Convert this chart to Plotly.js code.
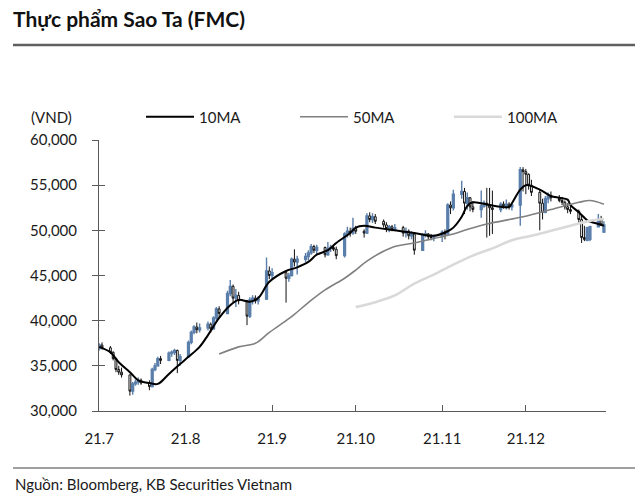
<!DOCTYPE html>
<html>
<head>
<meta charset="utf-8">
<script src="https://cdn.plot.ly/plotly-3.0.1.min.js"></script>
<style>
  html, body { margin: 0; padding: 0; background: #ffffff; }
  #chart { width: 640px; height: 501px; }
</style>
</head>
<body>
<div id="chart"></div>
<script>
// ---- Data ----
const dates = [
  '2021-07-01','2021-07-02','2021-07-05','2021-07-06','2021-07-07','2021-07-08','2021-07-09',
  '2021-07-12','2021-07-13','2021-07-14','2021-07-15','2021-07-16','2021-07-19','2021-07-20',
  '2021-07-21','2021-07-22','2021-07-23','2021-07-26','2021-07-27','2021-07-28','2021-07-29','2021-07-30',
  '2021-08-02','2021-08-03','2021-08-04','2021-08-05','2021-08-06','2021-08-09','2021-08-10',
  '2021-08-11','2021-08-12','2021-08-13','2021-08-16','2021-08-17','2021-08-18','2021-08-19',
  '2021-08-20','2021-08-23','2021-08-24','2021-08-25','2021-08-26','2021-08-27','2021-08-30','2021-08-31',
  '2021-09-01','2021-09-06','2021-09-07','2021-09-08','2021-09-09','2021-09-10','2021-09-13',
  '2021-09-14','2021-09-15','2021-09-16','2021-09-17','2021-09-20','2021-09-21','2021-09-22',
  '2021-09-23','2021-09-24','2021-09-27','2021-09-28','2021-09-29','2021-09-30',
  '2021-10-01','2021-10-04','2021-10-05','2021-10-06','2021-10-07','2021-10-08','2021-10-11',
  '2021-10-12','2021-10-13','2021-10-14','2021-10-15','2021-10-18','2021-10-19','2021-10-20',
  '2021-10-21','2021-10-22','2021-10-25','2021-10-26','2021-10-27','2021-10-28','2021-10-29',
  '2021-11-01','2021-11-02','2021-11-03','2021-11-04','2021-11-05','2021-11-08','2021-11-09',
  '2021-11-10','2021-11-11','2021-11-12','2021-11-15','2021-11-16','2021-11-17','2021-11-18',
  '2021-11-19','2021-11-22','2021-11-23','2021-11-24','2021-11-25','2021-11-26','2021-11-29','2021-11-30',
  '2021-12-01','2021-12-02','2021-12-03','2021-12-06','2021-12-07','2021-12-08','2021-12-09',
  '2021-12-10','2021-12-13','2021-12-14','2021-12-15','2021-12-16','2021-12-17','2021-12-20',
  '2021-12-21','2021-12-22','2021-12-23','2021-12-24','2021-12-27','2021-12-28','2021-12-29'
];
const openP = [
  36900,37300,37000,36500,35800,34600,34300,34000,32200,33000,33200,33400,33100,32700,
  34600,35000,35800,35600,36400,36500,36700,35600,
  36000,37600,38700,39300,39000,39200,39600,39100,40300,41300,40800,43000,43800,42500,
  42800,42200,40500,42300,42500,42200,42400,45500,
  45000,45300,44700,45000,46800,46500,46800,47100,47500,48200,47800,48100,47300,48000,
  48100,47900,47200,49600,49900,49700,
  50200,49900,49700,51600,51200,51500,51000,50600,50200,50400,50100,50300,49700,49900,
  49400,49600,47800,49500,49600,49300,49200,
  49300,49800,49600,52800,52500,54000,54300,53000,53600,52600,52300,52700,53000,52800,
  52500,52300,52900,52700,52900,52600,52800,56700,
  56500,56200,55000,54200,53000,52000,53500,53800,53600,53300,53100,52600,52300,52100,
  51200,49200,48900,49000,50400,51200,49800
];
const highP = [
  37500,37600,37200,36600,35900,35000,34800,34000,33200,33500,33700,33600,33400,34800,
  35300,36000,36100,36600,36700,36900,36800,36300,
  37800,38900,39500,39800,39700,39900,39800,40500,41500,41600,43300,44500,44000,43500,
  43200,42300,42600,42800,42800,42700,47000,46000,
  45800,45500,45300,47000,47900,47200,47500,47800,48500,48400,48400,48200,48700,48400,
  48300,48200,49800,50400,50300,51400,
  50500,50100,51900,52000,51900,51800,51200,50900,50600,50600,50700,50500,50300,50100,
  49900,49700,49700,50000,49700,49600,49500,
  50000,50100,53000,53200,54500,55500,54700,54200,53700,53200,54400,53300,54700,54700,
  54400,53100,53200,53400,53100,53000,57000,57000,
  56800,56300,55600,54500,53500,53800,54200,54300,53900,53700,53300,53000,52800,52300,
  51800,50500,50400,50500,51800,51600,51000
];
const lowP = [
  36700,36800,36300,35600,34300,34000,33700,31700,31800,32800,32900,32900,32300,32600,
  34400,34900,35200,35500,36000,36200,34200,35000,
  35900,37400,38500,38600,38700,38900,38700,39000,40100,40300,40700,42700,42000,41500,
  41800,39500,40300,41800,41900,41800,42300,44600,
  44500,42000,44300,44900,46000,45100,46500,46700,47300,47500,47300,47000,47200,47600,
  47700,46800,47000,49200,49300,49500,
  49600,49200,49600,50900,50800,50700,50300,49800,49800,49900,49900,49300,49200,49000,
  49000,47300,47700,49200,48900,48900,48800,
  48700,49000,49500,51800,52200,53500,51800,52300,52100,52000,51400,52500,49200,49400,
  49600,52000,52400,52300,52300,52200,50500,54300,
  54000,54500,53800,50000,51200,51900,53000,53200,53100,52800,52300,51900,51800,50700,
  48600,48800,48800,48800,50300,50500,49700
];
const closeP = [
  37300,37000,36500,35800,34600,34300,34000,32200,33000,33200,33400,33100,32700,34600,
  35000,35800,35600,36400,36500,36700,35600,36000,
  37600,38700,39300,39000,39200,39600,39100,40300,41300,40800,43000,43800,42500,42800,
  42200,40500,42300,42500,42200,42400,45500,45000,
  45300,44700,45000,46800,46500,46800,47100,47500,48200,47800,48100,47300,48000,48100,
  47900,47200,49600,49900,49700,50200,
  49900,49700,51600,51200,51500,51000,50600,50200,50400,50100,50300,49700,49900,49400,
  49600,47800,49500,49600,49300,49200,49300,
  49800,49600,52800,52500,54000,54300,53000,53600,52600,52300,52700,53000,52800,52500,
  52300,52900,52700,52900,52600,52800,56700,56500,
  56200,55000,54200,53000,52000,53500,53800,53600,53300,53100,52600,52300,52100,51200,
  49200,49000,50300,50400,51200,50600,50600
];

const ma10Dates = ['2021-07-01','2021-07-05','2021-07-08','2021-07-12','2021-07-15','2021-07-19','2021-07-22',
  '2021-07-26','2021-07-30','2021-08-02','2021-08-06','2021-08-09','2021-08-13','2021-08-17','2021-08-20',
  '2021-08-24','2021-08-27','2021-08-31','2021-09-06','2021-09-10','2021-09-14','2021-09-17','2021-09-21',
  '2021-09-24','2021-09-29','2021-10-01','2021-10-04','2021-10-08','2021-10-15','2021-10-22','2021-10-29',
  '2021-11-03','2021-11-05','2021-11-08','2021-11-10','2021-11-12','2021-11-18','2021-11-22','2021-11-25',
  '2021-11-26','2021-11-29','2021-12-01','2021-12-06','2021-12-10','2021-12-13','2021-12-16','2021-12-17',
  '2021-12-20','2021-12-22','2021-12-23','2021-12-27','2021-12-29'];
const ma10 = [37100,36500,35400,34300,33400,33100,33000,
  34100,35200,36000,37100,38400,40300,41700,42300,
  42100,42500,44300,45500,45900,46500,47300,47800,
  48600,49700,50300,50500,50300,50000,49700,49400,
  49900,50300,51500,52700,53100,52800,52600,52600,
  53000,54500,55000,54500,53800,53600,53400,52800,
  52000,51400,51100,50700,50500];

const ma50Dates = ['2021-08-13','2021-08-20','2021-08-26','2021-08-31','2021-09-06','2021-09-09','2021-09-14',
  '2021-09-20','2021-09-27','2021-10-01','2021-10-05','2021-10-14','2021-10-22','2021-10-29','2021-11-05',
  '2021-11-10','2021-11-17','2021-11-30','2021-12-10','2021-12-20','2021-12-24','2021-12-29'];
const ma50 = [36300,37100,37500,38700,40000,40700,42000,
  43400,44700,45600,46600,48100,48600,49100,49600,
  50100,50700,51500,52300,53100,53300,52900];

const ma100Dates = ['2021-10-01','2021-10-08','2021-10-15','2021-10-22','2021-10-29','2021-11-05',
  '2021-11-12','2021-11-19','2021-11-26','2021-12-03','2021-12-10','2021-12-17','2021-12-24','2021-12-29'];
const ma100 = [41500,42050,42800,44100,45100,46200,
  47200,48000,48900,49400,49950,50500,51050,51250];

const yTicks = [30000,35000,40000,45000,50000,55000,60000];

// ---- Styles ----
const FONT = 'Lato, "Noto Sans", sans-serif';
const TXT = '#1a1a1a';
const AX = '#595959';

const traces = [
  {
    type: 'candlestick', x: dates, open: openP, high: highP, low: lowP, close: closeP,
    increasing: { line: { color: '#5b7fab', width: 1.4 }, fillcolor: '#5b7fab' },
    decreasing: { line: { color: '#111111', width: 1 }, fillcolor: '#ffffff' },
    whiskerwidth: 0, showlegend: false, hoverinfo: 'skip'
  },
  { type: 'scatter', mode: 'lines', name: '10MA', x: ma10Dates, y: ma10,
    line: { color: '#000000', width: 2, shape: 'spline', smoothing: 1 } },
  { type: 'scatter', mode: 'lines', name: '50MA', x: ma50Dates, y: ma50,
    line: { color: '#808080', width: 1.6, shape: 'spline', smoothing: 1 } },
  { type: 'scatter', mode: 'lines', name: '100MA', x: ma100Dates, y: ma100,
    line: { color: '#d9d9d9', width: 2.6, shape: 'spline', smoothing: 1 } },
  { type: 'scatter', mode: 'lines', x: [], y: [], yaxis: 'y2', showlegend: false, hoverinfo: 'skip' }
];

const layout = {
  width: 640, height: 501,
  margin: { l: 99, r: 34, t: 140, b: 90 },
  paper_bgcolor: '#ffffff', plot_bgcolor: '#ffffff',
  font: { family: FONT, color: TXT, size: 14 },
  boxgap: 0.05,
  title: {
    text: '<b>Thực phẩm Sao Ta (FMC)</b>',
    xref: 'container', yref: 'container', x: 13/640, xanchor: 'left',
    y: 1 - 20/501, yanchor: 'middle',
    font: { family: FONT, size: 21, color: '#111111' }
  },
  showlegend: true,
  legend: {
    orientation: 'h', xref: 'container', x: 141/640, xanchor: 'left',
    yref: 'container', y: 1 - 117/501, yanchor: 'middle',
    font: { family: FONT, size: 15, color: TXT },
    itemwidth: 48, entrywidth: 91, entrywidthmode: 'pixels',
    bgcolor: 'rgba(0,0,0,0)', traceorder: 'normal'
  },
  xaxis: {
    type: 'date', range: ['2021-06-30 22:00', '2021-12-29 18:00'],
    tick0: '2021-07-01', dtick: 'M1', tickformat: '%y.%-m',
    ticks: 'inside', ticklen: 6, tickcolor: AX, tickwidth: 1,
    showline: true, linecolor: AX, linewidth: 1,
    showgrid: false, zeroline: false,
    tickfont: { family: FONT, size: 15, color: TXT },
    ticklabelstandoff: 14,
    rangeslider: { visible: false }, fixedrange: true
  },
  yaxis: {
    range: [30000, 60000], tickvals: yTicks, tickformat: ',d',
    ticks: 'outside', ticklen: 6, tickcolor: AX, tickwidth: 1,
    showline: true, linecolor: AX, linewidth: 1,
    showgrid: false, zeroline: false,
    tickfont: { family: FONT, size: 15, color: TXT },
    ticklabelstandoff: 12, fixedrange: true
  },
  yaxis2: {
    overlaying: 'y', side: 'left', range: [30000, 60000], tickvals: yTicks,
    ticks: 'inside', ticklen: 6, tickcolor: AX, tickwidth: 1,
    showticklabels: false, showline: false, showgrid: false, zeroline: false, fixedrange: true
  },
  annotations: [
    { text: '(VND)', xref: 'paper', yref: 'paper', x: -25/507, y: (411-117)/271,
      xanchor: 'right', yanchor: 'middle', showarrow: false,
      font: { family: FONT, size: 15, color: TXT } },
    { text: 'Nguồn: Bloomberg, KB Securities Vietnam', xref: 'paper', yref: 'paper',
      x: (13-99)/507, y: (411-484)/271, xanchor: 'left', yanchor: 'middle', showarrow: false,
      font: { family: FONT, size: 15, color: TXT } }
  ],
  shapes: [
    { type: 'line', xref: 'paper', yref: 'paper', x0: (13-99)/507, x1: (635-99)/507,
      y0: (411-45)/271, y1: (411-45)/271, line: { color: '#5f5f5f', width: 2.5 } },
    { type: 'line', xref: 'paper', yref: 'paper', x0: (13-99)/507, x1: (635-99)/507,
      y0: (411-468)/271, y1: (411-468)/271, line: { color: '#7f7f7f', width: 1.5 } }
  ]
};

Plotly.newPlot('chart', traces, layout, { staticPlot: true, displayModeBar: false });
</script>
</body>
</html>
